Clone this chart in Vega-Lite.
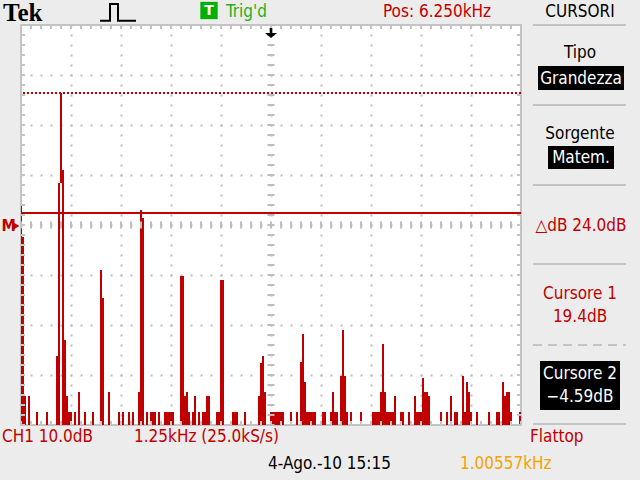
{
  "$schema": "https://vega.github.io/schema/vega-lite/v6.json",
  "width": 500,
  "height": 400,
  "autosize": {"type": "none"},
  "padding": {"left": 21, "top": 25, "right": 119, "bottom": 55},
  "background": "#ececec",
  "data": {"values": [{}]},
  "config": {
    "view": {"stroke": "#c4c4c4", "strokeWidth": 2, "fill": "white"},
    "axis": {"grid": true, "labels": false, "ticks": false, "domain": false, "gridColor": "#bdbdbd", "gridDash": [2, 8], "gridDashOffset": 1, "gridWidth": 2, "zindex": 1},
    "text": {"font": "DejaVu Sans Condensed, sans-serif", "fontSize": 17, "baseline": "middle"}
  },
  "datasets": {
    "trace": [
      {"f0": 0, "f1": 0.025, "db": -3.2}, {"f0": 0.025, "f1": 0.075, "db": -9.4}, {"f0": 0.075, "f1": 0.125, "db": -41.2},
      {"f0": 0.175, "f1": 0.225, "db": -41.2}, {"f0": 0.375, "f1": 0.425, "db": -44.4}, {"f0": 0.625, "f1": 0.675, "db": -44.4},
      {"f0": 0.875, "f1": 0.925, "db": -33.2}, {"f0": 0.925, "f1": 0.975, "db": 1.4}, {"f0": 1.025, "f1": 1.075, "db": 4},
      {"f0": 1.075, "f1": 1.125, "db": -30}, {"f0": 1.125, "f1": 1.175, "db": -41.2}, {"f0": 1.175, "f1": 1.275, "db": -44.4},
      {"f0": 1.325, "f1": 1.375, "db": -44.4}, {"f0": 1.425, "f1": 1.475, "db": -40.4}, {"f0": 1.575, "f1": 1.625, "db": -44.4},
      {"f0": 1.775, "f1": 1.825, "db": -44.4}, {"f0": 1.975, "f1": 2.025, "db": -16}, {"f0": 2.025, "f1": 2.075, "db": -21.6},
      {"f0": 2.175, "f1": 2.225, "db": -40.4}, {"f0": 2.425, "f1": 2.475, "db": -44.4}, {"f0": 2.525, "f1": 2.575, "db": -44.4},
      {"f0": 2.675, "f1": 2.725, "db": -44.4}, {"f0": 2.775, "f1": 2.825, "db": -44.4}, {"f0": 2.925, "f1": 2.975, "db": -40.4},
      {"f0": 2.975, "f1": 3.025, "db": -4}, {"f0": 3.025, "f1": 3.075, "db": -5.6}, {"f0": 3.125, "f1": 3.175, "db": -44.4},
      {"f0": 3.225, "f1": 3.375, "db": -44.4}, {"f0": 3.425, "f1": 3.475, "db": -44.4}, {"f0": 3.575, "f1": 3.825, "db": -44.4},
      {"f0": 3.975, "f1": 4.075, "db": -17.2}, {"f0": 4.075, "f1": 4.125, "db": -41.2}, {"f0": 4.125, "f1": 4.175, "db": -40.4},
      {"f0": 4.175, "f1": 4.225, "db": -44.4}, {"f0": 4.275, "f1": 4.325, "db": -44.4}, {"f0": 4.325, "f1": 4.375, "db": -41.2},
      {"f0": 4.425, "f1": 4.475, "db": -44.4}, {"f0": 4.525, "f1": 4.625, "db": -44.4}, {"f0": 4.625, "f1": 4.725, "db": -41.2},
      {"f0": 4.875, "f1": 4.975, "db": -44.4}, {"f0": 4.975, "f1": 5.075, "db": -18}, {"f0": 5.275, "f1": 5.425, "db": -44.4},
      {"f0": 5.575, "f1": 5.625, "db": -44.4}, {"f0": 5.925, "f1": 5.975, "db": -41.2}, {"f0": 5.975, "f1": 6.025, "db": -34.6},
      {"f0": 6.025, "f1": 6.075, "db": -33.2}, {"f0": 6.075, "f1": 6.125, "db": -40.4}, {"f0": 6.225, "f1": 6.575, "db": -44.4},
      {"f0": 6.725, "f1": 6.775, "db": -44.4}, {"f0": 6.875, "f1": 6.925, "db": -44.4}, {"f0": 6.975, "f1": 7.025, "db": -34.4},
      {"f0": 7.025, "f1": 7.075, "db": -28.8}, {"f0": 7.075, "f1": 7.125, "db": -38.4}, {"f0": 7.125, "f1": 7.375, "db": -44.4},
      {"f0": 7.525, "f1": 7.625, "db": -44.4}, {"f0": 7.725, "f1": 7.775, "db": -44.4}, {"f0": 7.775, "f1": 7.825, "db": -40.4},
      {"f0": 7.825, "f1": 7.925, "db": -44.4}, {"f0": 7.975, "f1": 8.025, "db": -37.2}, {"f0": 8.025, "f1": 8.075, "db": -28},
      {"f0": 8.075, "f1": 8.125, "db": -37.2}, {"f0": 8.125, "f1": 8.175, "db": -44.4}, {"f0": 8.225, "f1": 8.275, "db": -44.4},
      {"f0": 8.475, "f1": 8.525, "db": -44.4}, {"f0": 8.775, "f1": 8.975, "db": -44.4}, {"f0": 8.975, "f1": 9.025, "db": -40.4},
      {"f0": 9.025, "f1": 9.075, "db": -30.8}, {"f0": 9.075, "f1": 9.125, "db": -40.4}, {"f0": 9.125, "f1": 9.325, "db": -44.4},
      {"f0": 9.325, "f1": 9.375, "db": -41.2}, {"f0": 9.475, "f1": 9.575, "db": -44.4}, {"f0": 9.675, "f1": 9.725, "db": -44.4},
      {"f0": 9.825, "f1": 9.875, "db": -41.2}, {"f0": 9.875, "f1": 10.025, "db": -44.4}, {"f0": 10.025, "f1": 10.075, "db": -37.6},
      {"f0": 10.075, "f1": 10.175, "db": -40.4}, {"f0": 10.175, "f1": 10.225, "db": -41.2}, {"f0": 10.475, "f1": 10.525, "db": -44.4},
      {"f0": 10.625, "f1": 10.675, "db": -44.4}, {"f0": 10.725, "f1": 10.775, "db": -41.2}, {"f0": 10.825, "f1": 10.925, "db": -44.4},
      {"f0": 11.025, "f1": 11.075, "db": -37.2}, {"f0": 11.075, "f1": 11.125, "db": -44.4}, {"f0": 11.125, "f1": 11.175, "db": -38.4},
      {"f0": 11.175, "f1": 11.225, "db": -40.4}, {"f0": 11.225, "f1": 11.275, "db": -44.4}, {"f0": 11.375, "f1": 11.425, "db": -44.4},
      {"f0": 11.675, "f1": 11.725, "db": -44.4}, {"f0": 11.875, "f1": 11.975, "db": -44.4}, {"f0": 12.025, "f1": 12.075, "db": -38.4},
      {"f0": 12.075, "f1": 12.125, "db": -41.2}, {"f0": 12.125, "f1": 12.225, "db": -40.4}, {"f0": 12.225, "f1": 12.275, "db": -44.4},
      {"f0": 12.45, "f1": 12.5, "db": -44.4}
    ],
    "peak": [{"f0": 0.975, "f1": 1.025, "hi": 19.4, "lo": 1.4}],
    "cursors": [{"name": "Cursore 1", "db": 19.4}, {"name": "Cursore 2", "db": -4.59}],
    "pulse": [
      {"i": 0, "f": 1.975, "db": 33.86}, {"i": 1, "f": 2.225, "db": 33.86}, {"i": 2, "f": 2.225, "db": 37.2},
      {"i": 3, "f": 2.425, "db": 37.2}, {"i": 4, "f": 2.425, "db": 33.86}, {"i": 5, "f": 2.875, "db": 33.86}
    ],
    "redLeft": [
      {"label": "Pos: 6.250kHz", "f": 9.05, "db": 35.7},
      {"label": "CH1 10.0dB", "f": -0.475, "db": -49.3},
      {"label": "1.25kHz (25.0kS/s)", "f": 2.825, "db": -49.3},
      {"label": "Flattop", "f": 12.725, "db": -49.3}
    ],
    "redCenter": [
      {"label": "△dB 24.0dB", "f": 14.0, "db": -7.1},
      {"label": "Cursore 1", "f": 13.975, "db": -20.7},
      {"label": "19.4dB", "f": 13.975, "db": -25.3}
    ],
    "blackCenter": [
      {"label": "CURSORI", "f": 13.975, "db": 35.7},
      {"label": "Tipo", "f": 13.975, "db": 27.5},
      {"label": "Sorgente", "f": 13.975, "db": 11.3}
    ],
    "whiteCenter": [
      {"label": "Grandezza", "f": 14.0, "db": 22.3},
      {"label": "Matem.", "f": 14.0, "db": 6.4},
      {"label": "Cursore 2", "f": 13.975, "db": -36.7},
      {"label": "−4.59dB", "f": 13.975, "db": -41.4}
    ],
    "boxes": [
      {"f0": 12.925, "f1": 15.075, "top": 24.8, "bot": 20},
      {"f0": 13.175, "f1": 14.825, "top": 8.8, "bot": 4.2},
      {"f0": 12.975, "f1": 14.975, "top": -34.2, "bot": -44}
    ],
    "seps": [{"db": 33}, {"db": 17}, {"db": 1}, {"db": -14.8}, {"db": -46.8}]
  },
  "layer": [
    {
      "data": {"name": "trace"},
      "mark": {"type": "rect", "color": "#c00000"},
      "encoding": {
        "x": {"field": "f0", "type": "quantitative", "title": null, "scale": {"domain": [0, 12.5], "nice": false, "zero": false},
              "axis": {"values": [1.25, 2.5, 3.75, 5, 6.25, 7.5, 8.75, 10, 11.25]}},
        "x2": {"field": "f1"},
        "y": {"field": "db", "type": "quantitative", "title": null, "scale": {"domain": [-47, 33], "nice": false, "zero": false},
              "axis": {"values": [23, 13, 3, -7, -17, -27, -37]}},
        "y2": {"datum": -47}
      }
    },
    {
      "data": {"name": "peak"},
      "mark": {"type": "rect", "color": "#c00000"},
      "encoding": {
        "x": {"field": "f0", "type": "quantitative", "title": null},
        "x2": {"field": "f1"},
        "y": {"field": "hi", "type": "quantitative", "title": null},
        "y2": {"field": "lo"}
      }
    },
    {
      "mark": {"type": "rule", "color": "#bdbdbd", "strokeWidth": 7, "strokeDash": [2, 8], "strokeDashOffset": 1},
      "encoding": {"y": {"datum": -7}}
    },
    {
      "mark": {"type": "rule", "color": "#bdbdbd", "strokeWidth": 7, "strokeDash": [2, 8], "strokeDashOffset": 1},
      "encoding": {"x": {"datum": 6.25}}
    },
    {
      "mark": {"type": "rule", "color": "#c4c4c4", "strokeWidth": 4, "strokeDash": [2, 8], "strokeDashOffset": 1},
      "encoding": {"y": {"datum": 32.6}}
    },
    {
      "mark": {"type": "rule", "color": "#c4c4c4", "strokeWidth": 4, "strokeDash": [2, 8], "strokeDashOffset": 1},
      "encoding": {"y": {"datum": -46.6}}
    },
    {
      "mark": {"type": "rule", "color": "#c4c4c4", "strokeWidth": 4, "strokeDash": [2, 8], "strokeDashOffset": 1},
      "encoding": {"x": {"datum": 0.05}}
    },
    {
      "mark": {"type": "rule", "color": "#c4c4c4", "strokeWidth": 4, "strokeDash": [2, 8], "strokeDashOffset": 1},
      "encoding": {"x": {"datum": 12.45}}
    },
    {
      "data": {"name": "cursors"},
      "transform": [{"filter": "datum.name === 'Cursore 1'"}],
      "mark": {"type": "rule", "color": "#c00000", "strokeWidth": 2, "strokeDash": [2, 2]},
      "encoding": {"y": {"field": "db", "type": "quantitative", "title": null}}
    },
    {
      "data": {"name": "cursors"},
      "transform": [{"filter": "datum.name === 'Cursore 2'"}],
      "mark": {"type": "rule", "color": "#c00000", "strokeWidth": 2},
      "encoding": {"y": {"field": "db", "type": "quantitative", "title": null}}
    },
    {
      "data": {"name": "pulse"},
      "mark": {"type": "line", "color": "black", "strokeWidth": 2, "clip": false},
      "encoding": {
        "x": {"field": "f", "type": "quantitative", "title": null},
        "y": {"field": "db", "type": "quantitative", "title": null},
        "order": {"field": "i"}
      }
    },
    {
      "mark": {"type": "point", "shape": "square", "filled": true, "color": "#00b000", "size": 300, "opacity": 1},
      "encoding": {"x": {"datum": 4.7}, "y": {"datum": 35.9}}
    },
    {
      "mark": {"type": "text", "text": "T", "color": "white", "fontWeight": "bold", "fontSize": 14, "font": "DejaVu Sans", "align": "center"},
      "encoding": {"x": {"datum": 4.7}, "y": {"datum": 35.9}}
    },
    {
      "mark": {"type": "text", "text": "Trig'd", "color": "#22b022", "align": "left"},
      "encoding": {"x": {"datum": 5.125}, "y": {"datum": 35.7}}
    },
    {
      "mark": {"type": "text", "text": "Tek", "color": "black", "font": "Liberation Serif", "fontWeight": "bold", "fontSize": 25, "align": "left", "baseline": "middle"},
      "encoding": {"x": {"datum": -0.45}, "y": {"datum": 35.5}}
    },
    {
      "mark": {"type": "point", "shape": "M-0.22,-0.83 L0.22,-0.83 L0.22,0 L1,0 L0,0.83 L-1,0 L-0.22,0 Z", "filled": true, "color": "black", "size": 144, "opacity": 1},
      "encoding": {"x": {"datum": 6.25}, "y": {"datum": 31.4}}
    },
    {
      "mark": {"type": "text", "text": "M", "color": "#c00000", "fontWeight": "bold", "fontSize": 16, "align": "left"},
      "encoding": {"x": {"datum": -0.49}, "y": {"datum": -7.2}}
    },
    {
      "mark": {"type": "point", "shape": "triangle-right", "filled": true, "color": "#c00000", "size": 70, "opacity": 1},
      "encoding": {"x": {"datum": -0.13}, "y": {"datum": -7.2}}
    },
    {
      "data": {"name": "seps"},
      "mark": {"type": "rule", "color": "#c4c4c4", "strokeWidth": 2},
      "encoding": {"x": {"datum": 12.8}, "x2": {"datum": 15.125}, "y": {"field": "db", "type": "quantitative", "title": null}}
    },
    {
      "mark": {"type": "rule", "color": "#c4c4c4", "strokeWidth": 2, "strokeDash": [9, 6]},
      "encoding": {"x": {"datum": 12.8}, "x2": {"datum": 15.125}, "y": {"datum": -31}}
    },
    {
      "data": {"name": "boxes"},
      "mark": {"type": "rect", "color": "black"},
      "encoding": {
        "x": {"field": "f0", "type": "quantitative", "title": null}, "x2": {"field": "f1"},
        "y": {"field": "top", "type": "quantitative", "title": null}, "y2": {"field": "bot"}
      }
    },
    {
      "data": {"name": "redLeft"},
      "mark": {"type": "text", "color": "#c00000", "align": "left"},
      "encoding": {"x": {"field": "f", "type": "quantitative", "title": null}, "y": {"field": "db", "type": "quantitative", "title": null}, "text": {"field": "label"}}
    },
    {
      "data": {"name": "redCenter"},
      "mark": {"type": "text", "color": "#c00000", "align": "center"},
      "encoding": {"x": {"field": "f", "type": "quantitative", "title": null}, "y": {"field": "db", "type": "quantitative", "title": null}, "text": {"field": "label"}}
    },
    {
      "data": {"name": "blackCenter"},
      "mark": {"type": "text", "color": "black", "align": "center"},
      "encoding": {"x": {"field": "f", "type": "quantitative", "title": null}, "y": {"field": "db", "type": "quantitative", "title": null}, "text": {"field": "label"}}
    },
    {
      "data": {"name": "whiteCenter"},
      "mark": {"type": "text", "color": "white", "align": "center"},
      "encoding": {"x": {"field": "f", "type": "quantitative", "title": null}, "y": {"field": "db", "type": "quantitative", "title": null}, "text": {"field": "label"}}
    },
    {
      "mark": {"type": "text", "text": "4-Ago.-10 15:15", "color": "black", "align": "left"},
      "encoding": {"x": {"datum": 6.175}, "y": {"datum": -54.8}}
    },
    {
      "mark": {"type": "text", "text": "1.00557kHz", "color": "#f5a300", "align": "left"},
      "encoding": {"x": {"datum": 10.975}, "y": {"datum": -54.8}}
    }
  ]
}
